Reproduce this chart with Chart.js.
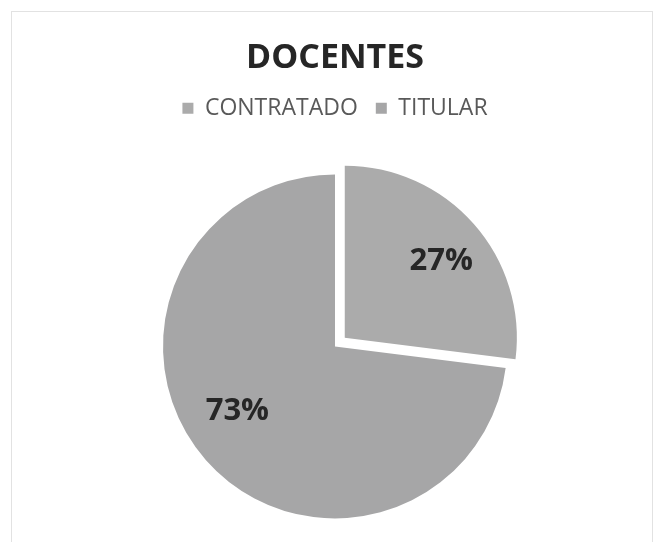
<!DOCTYPE html>
<html lang="es">
<head>
    <meta charset="UTF-8">
    <title>Docentes</title>
    <style>
        body {
            margin: 0;
            padding: 0;
            background: #ffffff;
        }
        #wrap {
            position: relative;
            width: 658px;
            height: 542px;
        }
        #frame {
            position: absolute;
            left: 11px;
            top: 11px;
            width: 640px;
            height: 540px;
            border: 1px solid #e2e2e2;
            border-bottom: none;
            pointer-events: none;
        }
    </style>
</head>
<body>
    <div id="wrap">
        <canvas id="pieChart" width="658" height="542"></canvas>
        <div id="frame"></div>
    </div>
    <script src="https://cdn.jsdelivr.net/npm/chart.js@4/dist/chart.umd.min.js"></script>
    <script>
        const categories = ['CONTRATADO', 'TITULAR'];
        const percentages = [27, 73];
        const sliceColors = ['#ababab', '#a6a6a7'];
        // chart.js v4 moves an arc by offset/4, so 52 gives ~13px
        const explode = [52, 0];

        // where each % label sits: fraction of the radius and an angle nudge (degrees)
        const labelSpots = [{ frac: 0.715, turn: 3 }, { frac: 0.68, turn: 8 }];

        // push the pie down below the legend
        const legendGap = {
            id: 'legendGap',
            beforeInit(chart) {
                const fit = chart.legend.fit;
                chart.legend.fit = function () {
                    fit.bind(chart.legend)();
                    this.height += 38;
                };
            }
        };

        const pctLabels = {
            id: 'pctLabels',
            afterDatasetsDraw(chart) {
                const ctx = chart.ctx;
                const meta = chart.getDatasetMeta(0);
                ctx.save();
                ctx.font = 'bold 31px "Open Sans"';
                ctx.fillStyle = '#262626';
                ctx.textAlign = 'center';
                ctx.textBaseline = 'middle';
                meta.data.forEach((arc, i) => {
                    const p = arc.getProps(['x', 'y', 'startAngle', 'endAngle', 'outerRadius'], true);
                    const mid = (p.startAngle + p.endAngle) / 2;
                    const a = mid + labelSpots[i].turn * Math.PI / 180;
                    const off = explode[i] / 4;
                    const cx = p.x + Math.cos(mid) * off;
                    const cy = p.y + Math.sin(mid) * off;
                    const r = p.outerRadius * labelSpots[i].frac;
                    ctx.fillText(percentages[i] + '%', cx + Math.cos(a) * r, cy + Math.sin(a) * r);
                });
                ctx.restore();
            }
        };

        const ctx = document.getElementById('pieChart').getContext('2d');
        const myChart = new Chart(ctx, {
            type: 'pie',
            data: {
                labels: categories,
                datasets: [{
                    data: percentages,
                    backgroundColor: sliceColors,
                    borderWidth: 0,
                    offset: explode,
                    radius: 172
                }]
            },
            options: {
                responsive: false,
                animation: false,
                layout: {
                    padding: { left: 12, right: 0, top: 0, bottom: 17 }
                },
                plugins: {
                    title: {
                        display: true,
                        text: 'DOCENTES',
                        color: '#262626',
                        font: { family: '"Open Sans"', size: 34, weight: 'bold' },
                        padding: { top: 38, bottom: 0 }
                    },
                    legend: {
                        position: 'top',
                        labels: {
                            color: '#595959',
                            font: { family: '"Open Sans"', size: 23 },
                            boxWidth: 11,
                            boxHeight: 11,
                            padding: 18
                        }
                    },
                    tooltip: { enabled: false }
                }
            },
            plugins: [legendGap, pctLabels]
        });
    </script>
</body>
</html>
